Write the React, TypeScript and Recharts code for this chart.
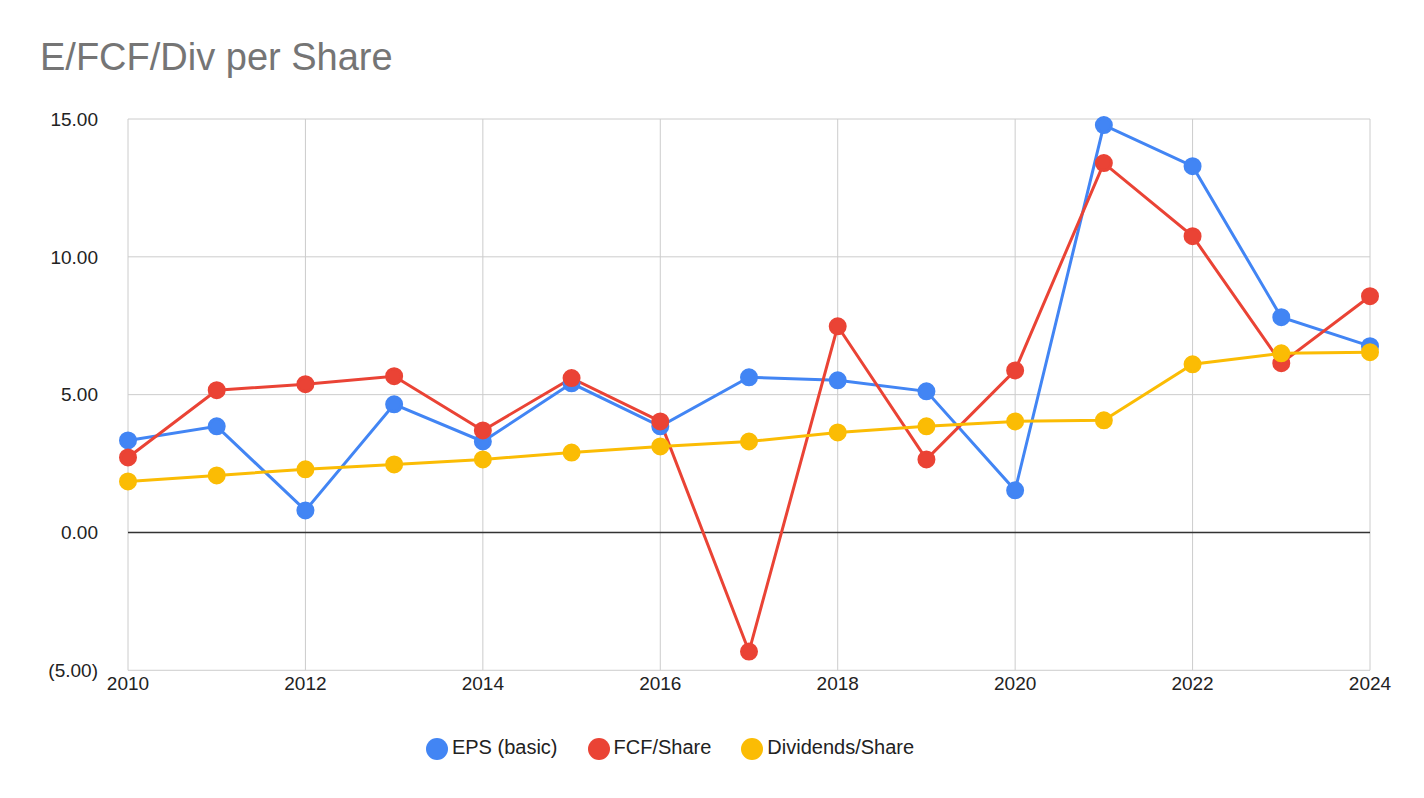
import React from 'react';
import { LineChart, Line, XAxis, YAxis, CartesianGrid, Legend, ReferenceLine } from 'recharts';

const years = [2010, 2011, 2012, 2013, 2014, 2015, 2016, 2017, 2018, 2019, 2020, 2021, 2022, 2023, 2024];
const eps = [3.34, 3.85, 0.8, 4.65, 3.3, 5.41, 3.85, 5.63, 5.52, 5.12, 1.53, 14.78, 13.29, 7.81, 6.76];
const fcf = [2.72, 5.16, 5.38, 5.67, 3.7, 5.6, 4.03, -4.32, 7.48, 2.65, 5.88, 13.4, 10.75, 6.14, 8.57];
const div = [1.85, 2.07, 2.29, 2.47, 2.65, 2.9, 3.12, 3.3, 3.63, 3.85, 4.03, 4.07, 6.1, 6.5, 6.54];
const xTicks = [2010, 2012, 2014, 2016, 2018, 2020, 2022, 2024];
const yTicks = [-5, 0, 5, 10, 15];

const data = years.map((y, i) => ({ year: y, eps: eps[i], fcf: fcf[i], div: div[i] }));

const fmt = (v: number) => (v < 0 ? `(${Math.abs(v).toFixed(2)})` : v.toFixed(2));

export default function App() {
  const font = 'Arial, "Liberation Sans", sans-serif';
  return (
    <div style={{ position: 'absolute', left: 0, top: 0, width: 1424, height: 798, background: '#fff', fontFamily: font }}>
      <div style={{ position: 'absolute', left: 40, top: 36, fontSize: 38, color: '#757575' }}>E/FCF/Div per Share</div>
      <LineChart width={1424} height={798} data={data} margin={{ top: 119, right: 54, bottom: 36, left: 0 }}>
        <CartesianGrid stroke="#cccccc" vertical={true} horizontal={true} />
        <XAxis dataKey="year" type="number" domain={[2010, 2024]} ticks={xTicks} interval={0}
          tick={{ fontSize: 19, fill: '#222' }} axisLine={false} tickLine={false} height={68} tickMargin={0} />
        <YAxis type="number" domain={[-5, 15]} ticks={yTicks} tickFormatter={fmt} width={128}
          tick={{ fontSize: 19, fill: '#222' }} axisLine={false} tickLine={false} tickMargin={24} />
        <ReferenceLine y={0} stroke="#333" strokeWidth={1.5} />
        <Legend verticalAlign="bottom" iconType="circle" iconSize={22} itemSorter={null as any}
          wrapperStyle={{ fontSize: 20, color: '#222', bottom: 38 }}
          formatter={(v) => <span style={{ color: '#222', marginRight: 20 }}>{v}</span>} />
        <Line dataKey="eps" name="EPS (basic)" stroke="#4285f4" strokeWidth={3} isAnimationActive={false}
          dot={{ r: 7.5, fill: '#4285f4', stroke: '#4285f4' }} />
        <Line dataKey="fcf" name="FCF/Share" stroke="#ea4335" strokeWidth={3} isAnimationActive={false}
          dot={{ r: 7.5, fill: '#ea4335', stroke: '#ea4335' }} />
        <Line dataKey="div" name="Dividends/Share" stroke="#fbbc04" strokeWidth={3} isAnimationActive={false}
          dot={{ r: 7.5, fill: '#fbbc04', stroke: '#fbbc04' }} />
      </LineChart>
    </div>
  );
}
